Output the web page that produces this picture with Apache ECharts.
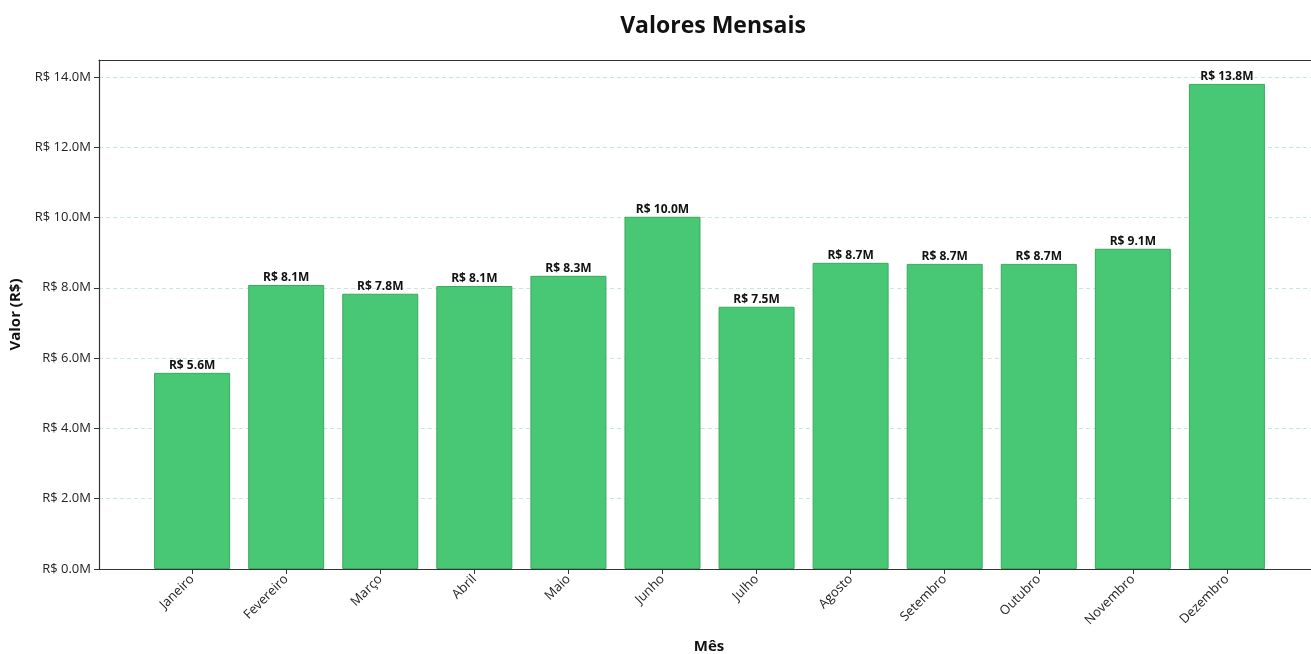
<!DOCTYPE html>
<html>
<head>
<meta charset="utf-8">
<title>Valores Mensais</title>
<script src="https://cdn.jsdelivr.net/npm/echarts@6/dist/echarts.min.js"></script>
<style>
  html, body { margin: 0; padding: 0; background: #ffffff; }
  #chart { width: 1311px; height: 654px; }
</style>
</head>
<body>
<div id="chart"></div>
<script>
  // dados (milhões de R$)
  var meses = ['Janeiro', 'Fevereiro', 'Março', 'Abril', 'Maio', 'Junho',
    'Julho', 'Agosto', 'Setembro', 'Outubro', 'Novembro', 'Dezembro'];
  var valores = [5.58, 8.08, 7.83, 8.05, 8.34, 10.02, 7.46, 8.71, 8.68, 8.68, 9.11, 13.80];
  var yTicks = [0, 2, 4, 6, 8, 10, 12, 14];

  var fonte = '"Open Sans", "Noto Sans", sans-serif';
  var idx = meses.map(function (m, i) { return i; });

  var chart = echarts.init(document.getElementById('chart'));
  var option = {
    backgroundColor: '#ffffff',
    animation: false,
    textStyle: { fontFamily: fonte },
    title: {
      text: 'Valores Mensais',
      left: 708,
      textAlign: 'center',
      top: 10,
      textStyle: { fontSize: 23, fontWeight: 'bold', color: '#111', fontFamily: fonte }
    },
    grid: {
      left: 99, top: 60, bottom: 85, right: 0,
      outerBoundsMode: 'none',
      containLabel: false
    },
    xAxis: [{
      type: 'value',
      min: -0.99,
      max: 11.894,
      name: 'Mês',
      nameLocation: 'middle',
      nameGap: 70,
      nameTextStyle: { fontSize: 15, fontWeight: 'bold', color: '#111', padding: [0, 0, 0, 8] },
      axisLine: { show: true, onZero: false, lineStyle: { color: '#333', width: 1.2 } },
      axisTick: { show: true, length: 5, customValues: idx, lineStyle: { color: '#333' } },
      axisLabel: {
        customValues: idx,
        rotate: 45,
        fontSize: 13,
        color: '#222',
        margin: 8,
        formatter: function (v) { return meses[Math.round(v)]; }
      },
      splitLine: { show: false }
    }, {
      // linha superior do quadro
      type: 'value',
      position: 'top',
      min: -0.99,
      max: 11.894,
      axisLine: { show: true, onZero: false, lineStyle: { color: '#333', width: 1.2 } },
      axisTick: { show: false },
      axisLabel: { show: false },
      splitLine: { show: false }
    }],
    yAxis: {
      type: 'value',
      min: 0,
      max: 14.48,
      name: 'Valor (R$)',
      nameLocation: 'middle',
      nameGap: 76,
      nameTextStyle: { fontSize: 15, fontWeight: 'bold', color: '#111' },
      axisLine: { show: true, onZero: false, lineStyle: { color: '#333', width: 1.2 } },
      axisTick: { show: true, length: 5, customValues: yTicks, lineStyle: { color: '#333' } },
      axisLabel: {
        customValues: yTicks,
        fontSize: 13,
        color: '#222',
        margin: 8,
        formatter: function (v) { return 'R$ ' + v.toFixed(1) + 'M'; }
      },
      splitLine: {
        show: true,
        lineStyle: { color: '#c6e6df', type: [4, 3], width: 1 }
      }
    },
    series: [{
      type: 'bar',
      xAxisIndex: 0,
      barWidth: 76,
      data: valores.map(function (v, i) { return [i, v]; }),
      itemStyle: { color: '#48c774', borderColor: '#3aa85f', borderWidth: 1 },
      label: {
        show: true,
        position: 'top',
        distance: 1,
        fontSize: 12,
        fontWeight: 'bold',
        color: '#111',
        formatter: function (p) { return 'R$ ' + p.value[1].toFixed(1) + 'M'; }
      }
    }]
  };
  chart.setOption(option);
</script>
</body>
</html>
